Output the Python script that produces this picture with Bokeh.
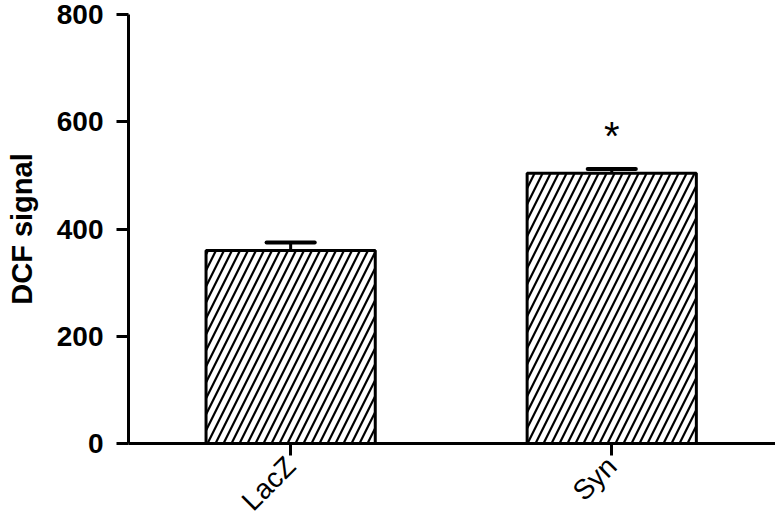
import math
from bokeh.plotting import figure
from bokeh.models import FixedTicker, Range1d, ColumnDataSource
from bokeh.core.properties import value
from bokeh.embed import file_html
from bokeh.resources import INLINE

categories = ["LacZ", "Syn"]
means = [360, 504]
sems = [15, 8]
y_ticks = [0, 200, 400, 600, 800]
sig_marks = ["", "*"]

xs = [i + 1 for i in range(len(categories))]
tops = [m + s for m, s in zip(means, sems)]

p = figure(width=775, height=530, output_backend="svg", toolbar_location=None,
           x_range=Range1d(0.495, 2.51), y_range=Range1d(0, 800),
           min_border_left=128, min_border_right=0, min_border_top=14, min_border_bottom=87)
p.outline_line_color = None
p.grid.visible = False
p.background_fill_color = "white"

src = ColumnDataSource(dict(x=xs, top=means))
p.vbar(x="x", top="top", width=0.527, bottom=0, source=src, fill_color="white",
       line_color="black", line_width=3, hatch_pattern="/", hatch_color="black",
       hatch_scale=16, hatch_weight=2.2)

# error bars (upper)
p.segment(x0=xs, y0=means, x1=xs, y1=tops, line_color="black", line_width=3)
cap = 0.075
p.segment(x0=[x - cap for x in xs], y0=tops, x1=[x + cap for x in xs], y1=tops,
          line_color="black", line_width=4, line_cap="round")

# significance
p.text(x=xs, y=[t + 62 for t in tops], text=sig_marks, text_align="center",
       text_baseline="middle", text_font=value("Liberation Sans"),
       text_font_size="40px", text_color="black")

for ax in (p.xaxis, p.yaxis):
    ax.axis_line_width = 3
    ax.axis_line_color = "black"
    ax.major_tick_line_width = 3
    ax.major_tick_line_color = "black"
    ax.minor_tick_line_color = None
    ax.major_tick_in = 0
    ax.major_tick_out = 12
    ax.major_label_text_font = "Liberation Sans"
    ax.major_label_text_font_style = "bold"
    ax.major_label_text_font_size = "28px"
    ax.major_label_text_color = "black"

p.yaxis.ticker = FixedTicker(ticks=y_ticks)
p.yaxis.major_label_standoff = 13
p.yaxis.axis_label = "DCF signal"
p.yaxis.axis_label_text_font = "Liberation Sans"
p.yaxis.axis_label_text_font_style = "bold"
p.yaxis.axis_label_text_font_size = "29px"
p.yaxis.axis_label_text_color = "black"
p.yaxis.axis_label_standoff = 16

p.xaxis.ticker = FixedTicker(ticks=xs)
p.xaxis.major_label_overrides = {x: c for x, c in zip(xs, categories)}
p.xaxis.major_label_orientation = math.pi / 4
p.xaxis.major_label_standoff = 6
p.xaxis.major_label_text_font_style = "normal"
p.xaxis.major_label_text_font_size = "28px"

open("out.html", "w").write(file_html(p, INLINE))
